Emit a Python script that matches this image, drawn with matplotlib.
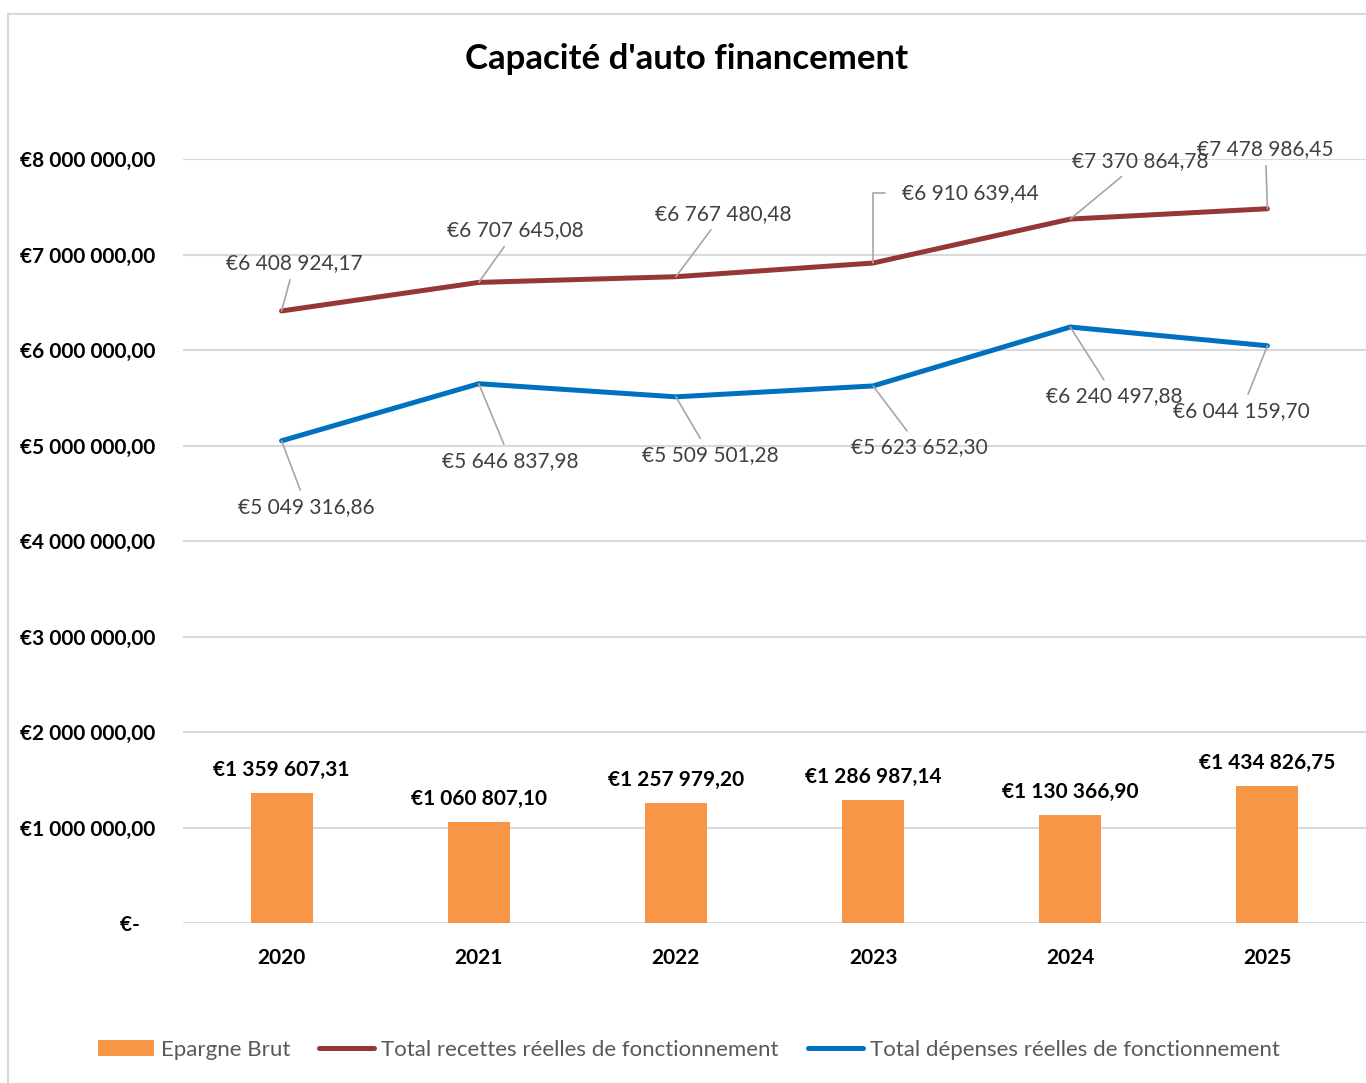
import matplotlib.pyplot as plt
import matplotlib.patches as mpatches
from matplotlib.ticker import FixedLocator

plt.rcParams['font.family'] = ['Lato', 'DejaVu Sans']

# --- DATA ---
years = ['2020', '2021', '2022', '2023', '2024', '2025']
epargne = [1359607.31, 1060807.10, 1257979.20, 1286987.14, 1130366.90, 1434826.75]
recettes = [6408924.17, 6707645.08, 6767480.48, 6910639.44, 7370864.78, 7478986.45]
depenses = [5049316.86, 5646837.98, 5509501.28, 5623652.30, 6240497.88, 6044159.70]
y_ticks = [0, 1e6, 2e6, 3e6, 4e6, 5e6, 6e6, 7e6, 8e6]

# label offsets (pixels) for the line data labels
rec_offsets = [(13, 48), (37, 52), (47, 63), (97, 70), (70, 58), (-2, 60)]
dep_offsets = [(25, -66), (32, -77), (34, -58), (46, -61), (44, -69), (-26, -65)]

RED = '#953735'
BLUE = '#0070C0'
ORANGE = '#F79646'
GRID = '#D9D9D9'
LABEL = '#404040'


def euro(v):
    s = f"{v:,.2f}".replace(',', ' ').replace('.', ',')
    return '€' + s


fig = plt.figure(figsize=(13.66, 10.83), dpi=100)
ax = fig.add_axes([183 / 1366, 1 - 923 / 1083, 1 - 183 / 1366, (923 - 159) / 1083])

# chart border
fig.patches.append(mpatches.Rectangle((8 / 1366, -0.05), 1.1, 1 - 14 / 1083 + 0.05,
                                      transform=fig.transFigure, fill=False,
                                      edgecolor=GRID, linewidth=1.5))

x = list(range(len(years)))
bars = ax.bar(x, epargne, width=0.315, color=ORANGE, label='Epargne Brut', zorder=2)
l1, = ax.plot(x, recettes, color=RED, linewidth=3.6, solid_capstyle='round',
              label='Total recettes réelles de fonctionnement', zorder=3)
l2, = ax.plot(x, depenses, color=BLUE, linewidth=3.6, solid_capstyle='round',
              label='Total dépenses réelles de fonctionnement', zorder=3)

ax.set_xlim(-0.5, 5.5)
ax.set_ylim(0, 8e6)
ax.yaxis.set_major_locator(FixedLocator(y_ticks))
ax.set_yticklabels([euro(v) if v else '€-   ' for v in y_ticks],
                   fontsize=15, fontweight='bold')
ax.set_xticks(x)
ax.set_xticklabels(years, fontsize=15, fontweight='bold')
ax.tick_params(axis='y', length=0, pad=20)
ax.tick_params(axis='x', length=0, pad=18)
ax.grid(axis='y', color=GRID, linewidth=1.5, zorder=0)
ax.set_axisbelow(True)
for s in ax.spines.values():
    s.set_visible(False)

# bar labels
for xi, v in zip(x, epargne):
    ax.annotate(euro(v), (xi, v), xytext=(0, 13), textcoords='offset pixels',
                ha='center', va='bottom', fontsize=15, fontweight='bold', color='black')

# line labels with leader lines
for i, (v, off) in enumerate(zip(recettes, rec_offsets)):
    cs = 'angle,angleA=0,angleB=90,rad=0' if i == 3 else 'arc3'
    rp = (0, 0.5) if i == 3 else (0.5, 0.5)
    ax.annotate(euro(v), (i, v), xytext=off, textcoords='offset pixels',
                ha='center', va='center', fontsize=15, color=LABEL, zorder=5,
                arrowprops=dict(arrowstyle='-', color='#A6A6A6', lw=1.2,
                                shrinkA=3 if i != 3 else 10, shrinkB=0,
                                connectionstyle=cs, relpos=rp))
for i, (v, off) in enumerate(zip(depenses, dep_offsets)):
    ax.annotate(euro(v), (i, v), xytext=off, textcoords='offset pixels',
                ha='center', va='center', fontsize=15, color=LABEL, zorder=5,
                arrowprops=dict(arrowstyle='-', color='#A6A6A6', lw=1.2,
                                shrinkA=3, shrinkB=0))

fig.text(687 / 1366, 1 - 59 / 1083, "Capacité d'auto financement",
         ha='center', va='center', fontsize=25, fontweight='bold')

leg = fig.legend([bars, l1, l2], [bars.get_label(), l1.get_label(), l2.get_label()],
                 loc='center', bbox_to_anchor=(689 / 1366, 1 - 1050 / 1083), ncol=3,
                 frameon=False, fontsize=16, handlelength=2.5, handletextpad=0.3,
                 columnspacing=1.3)
for t in leg.get_texts():
    t.set_color('#595959')

fig.savefig('out.png', dpi=100, facecolor='white')
